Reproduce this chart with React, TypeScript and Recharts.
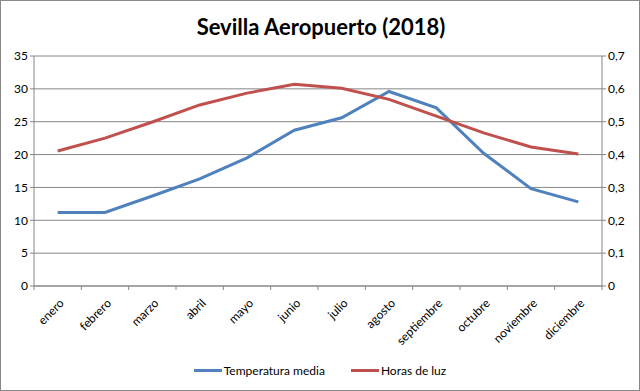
import React from 'react';
import { LineChart, Line, XAxis, YAxis, CartesianGrid, Legend } from 'recharts';

const months = ['enero', 'febrero', 'marzo', 'abril', 'mayo', 'junio', 'julio', 'agosto', 'septiembre', 'octubre', 'noviembre', 'diciembre'];
const temperatura = [11.2, 11.2, 13.7, 16.3, 19.5, 23.7, 25.6, 29.6, 27.1, 20.2, 14.8, 12.8];
const horasLuz = [0.411, 0.45, 0.499, 0.551, 0.587, 0.614, 0.602, 0.568, 0.517, 0.466, 0.423, 0.402];
const leftTicks = [0, 5, 10, 15, 20, 25, 30, 35];
const rightTicks = [0, 0.1, 0.2, 0.3, 0.4, 0.5, 0.6, 0.7];

const data = months.map((m, i) => ({ mes: m, temp: temperatura[i], luz: horasLuz[i] }));

const W = 640;
const H = 391;
const PLOT_LEFT = 34;
const PLOT_RIGHT = 602;
const BAND = (PLOT_RIGHT - PLOT_LEFT) / months.length;
const FONT = 'Lato, "Liberation Sans", sans-serif';
const GRID = '#868686';

const MonthTick = ({ x, y, payload, index }: any) => {
  const half = BAND / 2;
  const ax = x + 7;
  const ay = y + 10;
  return (
    <g>
      <line x1={x - half} y1={y - 8} x2={x - half} y2={y - 4} stroke={GRID} />
      {index === months.length - 1 && (
        <line x1={x + half} y1={y - 8} x2={x + half} y2={y - 4} stroke={GRID} />
      )}
      <text
        x={ax}
        y={ay}
        textAnchor="end"
        transform={`rotate(-45, ${ax}, ${ay})`}
        fontSize={12}
        fontFamily={FONT}
        fill="#000"
      >
        {payload.value}
      </text>
    </g>
  );
};

const LegendContent = () => (
  <div style={{ display: 'flex', justifyContent: 'center', fontFamily: FONT, fontSize: 12, color: '#000', paddingTop: 2 }}>
    <span style={{ display: 'flex', alignItems: 'center', marginRight: 26 }}>
      <span style={{ width: 28, height: 3, background: '#4F81BD', display: 'inline-block', marginRight: 2 }} />
      Temperatura media
    </span>
    <span style={{ display: 'flex', alignItems: 'center' }}>
      <span style={{ width: 28, height: 3, background: '#C0504D', display: 'inline-block', marginRight: 2 }} />
      Horas de luz
    </span>
  </div>
);

export default function App() {
  return (
    <div style={{ position: 'absolute', left: 0, top: 0, width: W, height: H, boxSizing: 'border-box', border: '1px solid #898989', background: '#fff' }}>
      <div style={{ position: 'absolute', left: 0, top: 12, width: W, textAlign: 'center', fontFamily: FONT, fontWeight: 'bold', fontSize: 22, color: '#000' }}>
        Sevilla Aeropuerto (2018)
      </div>
      <div style={{ position: 'absolute', left: -1, top: -1 }}>
        <LineChart width={W} height={H} data={data} margin={{ top: 56, right: 0, bottom: 0, left: 0 }}>
          <CartesianGrid vertical={false} stroke={GRID} yAxisId="left" />
          <XAxis
            dataKey="mes"
            padding={{ left: BAND / 2, right: BAND / 2 }}
            tickLine={false}
            axisLine={{ stroke: GRID }}
            interval={0}
            height={75}
            tick={<MonthTick />}
          />
          <YAxis
            yAxisId="left"
            domain={[0, 35]}
            ticks={leftTicks}
            width={34}
            axisLine={{ stroke: GRID }}
            tickLine={{ stroke: GRID }}
            tickSize={4}
            tick={{ fontSize: 12, fontFamily: FONT, fill: '#000' }}
          />
          <YAxis
            yAxisId="right"
            orientation="right"
            domain={[0, 0.7]}
            ticks={rightTicks}
            width={38}
            axisLine={{ stroke: GRID }}
            tickLine={{ stroke: GRID }}
            tickSize={4}
            tickFormatter={(v: number) => (v === 0 ? '0' : v.toFixed(1).replace('.', ','))}
            tick={{ fontSize: 12, fontFamily: FONT, fill: '#000' }}
          />
          <Legend verticalAlign="bottom" content={<LegendContent />} wrapperStyle={{ height: 30 }} />
          <Line yAxisId="left" type="linear" dataKey="temp" name="Temperatura media" stroke="#4F81BD" strokeWidth={3} dot={false} isAnimationActive={false} />
          <Line yAxisId="right" type="linear" dataKey="luz" name="Horas de luz" stroke="#C0504D" strokeWidth={3} dot={false} isAnimationActive={false} />
        </LineChart>
      </div>
    </div>
  );
}
